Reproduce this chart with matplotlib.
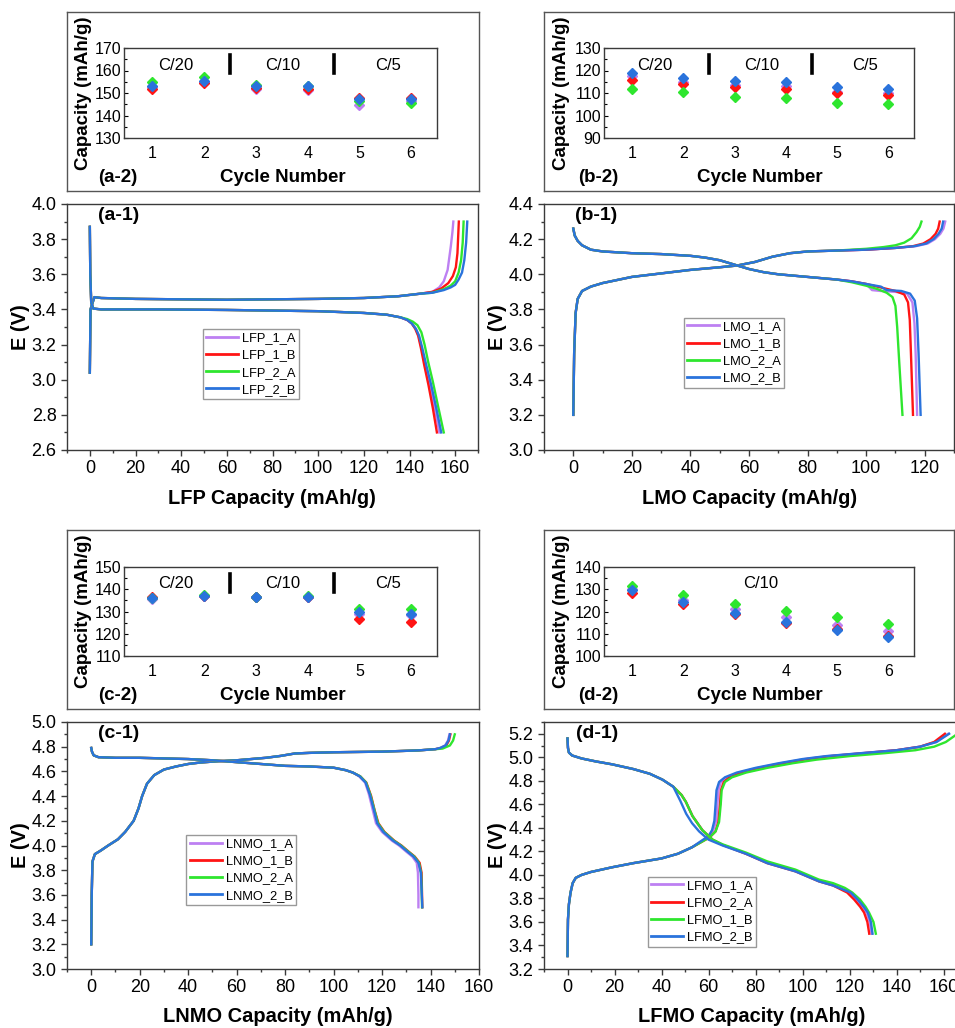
import matplotlib
matplotlib.use("Agg")
import matplotlib.pyplot as plt
from matplotlib.ticker import MultipleLocator

plt.rcParams['font.family'] = ['Liberation Sans', 'DejaVu Sans']

W, H = 955, 1028
colors = ['#BD80F2', '#FF1414', '#2EE62E', '#2A73DC']

# ---------------- cycling data (insets) ----------------
cycles = [1, 2, 3, 4, 5, 6]

lfp_cyc = [[152.5, 155.0, 151.7, 151.5, 144.8, 146.5],
           [151.6, 154.3, 152.2, 152.0, 148.0, 148.0],
           [154.9, 157.0, 153.5, 153.2, 146.5, 145.7],
           [153.1, 155.5, 153.0, 153.0, 147.5, 147.3]]
lmo_cyc = [[117.5, 115.0, 113.5, 113.0, 110.5, 110.0],
           [115.8, 114.0, 112.5, 112.0, 109.9, 109.3],
           [111.9, 110.4, 108.4, 107.8, 105.7, 105.1],
           [118.7, 116.7, 115.2, 114.7, 112.5, 111.9]]
lnmo_cyc = [[135.5, 136.8, 136.3, 136.4, 129.0, 128.5],
            [136.7, 137.0, 136.5, 136.6, 126.6, 125.3],
            [136.0, 137.2, 136.6, 136.8, 131.3, 131.0],
            [135.9, 137.0, 136.5, 136.6, 129.6, 129.0]]
lfmo_cyc = [[130.0, 125.3, 121.1, 117.4, 114.1, 111.4],
            [128.5, 123.5, 119.0, 115.0, 112.0, 109.0],
            [131.6, 127.6, 123.5, 120.4, 117.4, 114.6],
            [129.7, 124.4, 119.4, 115.3, 111.7, 108.4]]

rate_labels = ['C/20', 'C/10', 'C/5']
rate_pos = [1.45, 3.52, 5.55]
rate_breaks = [2.5, 4.5]

# ---------------- voltage profiles ----------------
# LFP
lfp_labels = ['LFP_1_A', 'LFP_1_B', 'LFP_2_A', 'LFP_2_B']
lfp_chg_cap = [0, 0.3, 1, 2, 5, 20, 60, 100, 120, 135, 145]
lfp_chg_v = [3.04, 3.40, 3.43, 3.47, 3.465, 3.46, 3.455, 3.46, 3.465, 3.475, 3.49]
lfp_chg_tail_cap = [[150, 153, 155, 156.7, 158.1, 158.8, 159.2],
                    [150, 154, 157, 159, 160.3, 161.0, 161.6],
                    [150, 155, 158, 160, 161.5, 162.6, 163.3, 163.7],
                    [150, 155, 158, 160, 161.5, 163, 164, 164.8, 165.3]]
lfp_chg_tail_v = [[3.50, 3.525, 3.56, 3.625, 3.76, 3.84, 3.90],
                  [3.50, 3.52, 3.55, 3.59, 3.64, 3.72, 3.90],
                  [3.495, 3.515, 3.535, 3.56, 3.61, 3.68, 3.78, 3.90],
                  [3.495, 3.51, 3.525, 3.54, 3.57, 3.61, 3.68, 3.78, 3.90]]
lfp_dis_cap = [0, 0.2, 0.6, 1.5, 5, 30, 60, 100, 120, 130, 136]
lfp_dis_v = [3.87, 3.60, 3.44, 3.405, 3.40, 3.40, 3.397, 3.39, 3.38, 3.37, 3.355]
lfp_dis_tail_cap = [[139, 141, 142.7, 144, 145.3, 147, 149, 151, 153.1],
                    [139, 141, 142.5, 143.8, 145, 146.5, 148.3, 150.2, 152],
                    [139, 141.5, 143.5, 145.2, 146.6, 148.2, 150.2, 152.5, 155],
                    [139, 141, 142.8, 144.2, 145.6, 147.4, 149.5, 151.7, 153.9]]
lfp_dis_tail_v = [[3.34, 3.32, 3.29, 3.25, 3.18, 3.08, 2.97, 2.84, 2.70],
                  [3.34, 3.32, 3.29, 3.25, 3.18, 3.08, 2.97, 2.84, 2.70],
                  [3.345, 3.33, 3.31, 3.27, 3.20, 3.10, 2.99, 2.85, 2.70],
                  [3.34, 3.32, 3.29, 3.25, 3.18, 3.08, 2.97, 2.84, 2.70]]

# LMO
lmo_labels = ['LMO_1_A', 'LMO_1_B', 'LMO_2_A', 'LMO_2_B']
lmo_chg_cap = [0, 0.3, 0.8, 1.5, 3, 6, 10, 20, 30, 40, 50, 56, 62, 68, 74, 80, 90]
lmo_chg_v = [3.20, 3.55, 3.78, 3.86, 3.905, 3.93, 3.95, 3.985, 4.005, 4.025, 4.04, 4.05,
             4.07, 4.10, 4.12, 4.13, 4.135]
lmo_chg_tail_cap = [[100, 110, 117, 121, 123.5, 125.3, 126.4, 127],
                    [100, 110, 116, 119.5, 122, 123.7, 124.6, 125.1],
                    [100, 106, 110, 113, 115.5, 117.2, 118.3, 118.9],
                    [100, 110, 116.5, 120.5, 123, 124.7, 125.8, 126.3]]
lmo_chg_tail_v = [[4.14, 4.15, 4.16, 4.175, 4.20, 4.23, 4.26, 4.30],
                  [4.14, 4.15, 4.16, 4.175, 4.20, 4.23, 4.26, 4.30],
                  [4.145, 4.155, 4.165, 4.18, 4.205, 4.24, 4.27, 4.30],
                  [4.14, 4.15, 4.16, 4.175, 4.20, 4.23, 4.26, 4.30]]
lmo_dis_cap = [0, 0.5, 1.5, 3, 6, 10, 20, 30, 40, 45, 50, 55, 60, 65, 70, 80, 90]
lmo_dis_v = [4.26, 4.22, 4.19, 4.165, 4.14, 4.13, 4.12, 4.115, 4.105, 4.095, 4.08, 4.055,
             4.03, 4.012, 4.0, 3.985, 3.97]
lmo_dis_tail_cap = [[95, 100, 102, 105, 110, 114, 115.8, 116.5, 116.9, 117.4],
                    [95, 100, 105, 110, 113, 114.3, 114.9, 115.3, 116],
                    [95, 100, 104, 107, 109, 110, 110.6, 111.3, 112.4],
                    [95, 100, 105, 107, 112, 115, 116.6, 117.4, 117.9, 118.6]]
lmo_dis_tail_v = [[3.96, 3.945, 3.91, 3.905, 3.90, 3.89, 3.84, 3.72, 3.55, 3.20],
                  [3.96, 3.945, 3.925, 3.905, 3.885, 3.84, 3.74, 3.55, 3.20],
                  [3.955, 3.935, 3.915, 3.895, 3.87, 3.82, 3.70, 3.50, 3.20],
                  [3.96, 3.945, 3.93, 3.91, 3.905, 3.89, 3.85, 3.75, 3.55, 3.20]]

# LNMO
lnmo_labels = ['LNMO_1_A', 'LNMO_1_B', 'LNMO_2_A', 'LNMO_2_B']
lnmo_chg_cap = [0, 0.2, 0.5, 1.5, 4, 7, 11, 14, 17.5, 19.5, 21, 23, 26, 30, 35, 40, 45, 52,
                60, 66, 72, 78, 84, 90, 100, 120, 135, 142]
lnmo_chg_v = [3.20, 3.60, 3.87, 3.93, 3.96, 4.0, 4.05, 4.11, 4.2, 4.3, 4.4, 4.5, 4.57, 4.615,
              4.64, 4.66, 4.672, 4.682, 4.69, 4.70, 4.71, 4.725, 4.745, 4.75, 4.755, 4.76,
              4.77, 4.78]
lnmo_chg_tail_cap = [[144, 146, 147.2, 147.8],
                     [144.5, 146.5, 147.6, 148.2],
                     [145, 148, 149.3, 150],
                     [144, 146.2, 147.4, 148]]
lnmo_chg_tail_v = [[4.79, 4.81, 4.85, 4.90],
                   [4.79, 4.81, 4.85, 4.90],
                   [4.785, 4.81, 4.85, 4.90],
                   [4.79, 4.81, 4.85, 4.90]]
lnmo_dis_cap = [0, 0.3, 1, 3, 10, 20, 30, 40, 50, 60, 70, 80, 90, 100, 105, 108]
lnmo_dis_v = [4.79, 4.76, 4.73, 4.715, 4.71, 4.71, 4.705, 4.70, 4.69, 4.675, 4.66, 4.645,
              4.64, 4.63, 4.61, 4.59]
lnmo_dis_tail_cap = [[110.5, 113, 114.5, 116, 117.5, 120, 124, 127, 130, 132.5, 134.3, 134.8, 135, 135],
                     [111, 113.5, 115.5, 117, 118.5, 121, 125, 128, 131, 133.5, 135.5, 136.3, 136.5, 136.6],
                     [111, 113.4, 115.2, 116.8, 118.3, 120.8, 124.8, 127.8, 130.8, 133.3, 135.2, 136.1, 136.4, 136.5],
                     [110.8, 113.2, 115, 116.6, 118, 120.5, 124.5, 127.5, 130.5, 133, 135, 136, 136.4, 136.6]]
lnmo_dis_tail_v = [[4.56, 4.51, 4.42, 4.30, 4.18, 4.11, 4.04, 4.0, 3.95, 3.91, 3.86, 3.78, 3.6, 3.5],
                   [4.56, 4.51, 4.40, 4.28, 4.18, 4.11, 4.04, 4.0, 3.95, 3.91, 3.86, 3.78, 3.6, 3.5],
                   [4.56, 4.51, 4.41, 4.29, 4.18, 4.11, 4.04, 4.0, 3.95, 3.91, 3.86, 3.78, 3.6, 3.5],
                   [4.56, 4.51, 4.41, 4.29, 4.18, 4.11, 4.04, 4.0, 3.95, 3.91, 3.86, 3.78, 3.6, 3.5]]

# LFMO
lfmo_labels = ['LFMO_1_A', 'LFMO_2_A', 'LFMO_1_B', 'LFMO_2_B']
lfmo_chg_cap = [0, 0.2, 0.6, 1.3, 2.2, 3.5, 6, 10, 19, 28, 40, 47, 53]
lfmo_chg_v = [3.31, 3.62, 3.75, 3.85, 3.93, 3.975, 4.0, 4.025, 4.065, 4.10, 4.14, 4.18, 4.235]
lfmo_chg_tail_cap = [[57, 60.3, 62, 63.3, 63.8, 64.2, 65.3, 68, 73, 81, 91, 101, 111, 125, 140, 150, 157, 162],
                     [57, 60.5, 63, 64.2, 64.9, 65.3, 66.5, 69, 74, 82, 92, 102, 112, 126, 140, 150, 156, 160.6],
                     [57, 60.5, 63, 64.5, 65.2, 65.6, 67, 70, 76, 85, 96, 106, 120, 135, 148, 156, 161, 166],
                     [57, 60, 61.5, 62.5, 63, 63.4, 64.5, 67, 72, 80, 90, 100, 110, 125, 140, 150, 157, 162.4]]
lfmo_chg_tail_v = [[4.285, 4.33, 4.38, 4.46, 4.6, 4.72, 4.79, 4.83, 4.87, 4.91, 4.95, 4.985, 5.01, 5.035, 5.06, 5.09, 5.13, 5.2],
                   [4.28, 4.32, 4.37, 4.45, 4.6, 4.72, 4.79, 4.83, 4.87, 4.91, 4.95, 4.985, 5.01, 5.035, 5.06, 5.09, 5.13, 5.2],
                   [4.28, 4.32, 4.37, 4.45, 4.6, 4.72, 4.79, 4.83, 4.87, 4.91, 4.95, 4.98, 5.01, 5.035, 5.06, 5.09, 5.13, 5.2],
                   [4.29, 4.33, 4.38, 4.46, 4.6, 4.72, 4.79, 4.83, 4.87, 4.91, 4.95, 4.985, 5.01, 5.035, 5.06, 5.09, 5.13, 5.2]]
lfmo_dis_cap = [0, 0.2, 0.6, 2, 6, 12, 19, 28, 35, 40.4, 45]
lfmo_dis_v = [5.16, 5.08, 5.04, 5.015, 4.99, 4.965, 4.94, 4.9, 4.86, 4.81, 4.75]
lfmo_dis_tail_cap = [[48.5, 50.4, 53.2, 57.4, 61.7, 66, 75.9, 85, 97, 107, 113, 117.5, 120, 123, 125.5, 127.2, 128.6, 129.4],
                     [48.5, 50.4, 53.2, 57.4, 61.7, 66, 75.9, 85, 97, 107, 113, 117, 119, 122, 124.5, 126.2, 127.6, 128.4],
                     [48.5, 50.4, 53.2, 57.4, 61.7, 66, 75.9, 85, 97, 107, 113, 118, 121.2, 124.5, 126.8, 128.3, 130.2, 131.2],
                     [48, 50.5, 53, 56, 60, 66, 75.9, 85, 97, 107, 113, 118, 120.5, 123.5, 126, 127.8, 129.1, 129.8]]
lfmo_dis_tail_v = [[4.68, 4.62, 4.50, 4.38, 4.30, 4.255, 4.18, 4.105, 4.035, 3.95, 3.915, 3.875, 3.85, 3.79, 3.73, 3.68, 3.6, 3.5],
                   [4.68, 4.62, 4.50, 4.38, 4.30, 4.255, 4.18, 4.10, 4.03, 3.945, 3.91, 3.87, 3.85, 3.79, 3.73, 3.68, 3.6, 3.5],
                   [4.68, 4.62, 4.50, 4.38, 4.30, 4.26, 4.19, 4.115, 4.045, 3.96, 3.93, 3.89, 3.85, 3.79, 3.73, 3.68, 3.6, 3.5],
                   [4.63, 4.52, 4.44, 4.37, 4.30, 4.25, 4.18, 4.10, 4.03, 3.945, 3.91, 3.87, 3.85, 3.79, 3.73, 3.68, 3.6, 3.5]]


def rect(x0, y0, x1, y1):
    # pixel box -> figure fraction [left, bottom, width, height]
    return [x0 / W, 1 - y1 / H, (x1 - x0) / W, (y1 - y0) / H]


fig = plt.figure(figsize=(W / 100, H / 100), dpi=100)
spine_col = '#3a3a3a'


def inset(frame, inner, data, ylim, tag, lab_x, tag_x, xl_x, y_off, rates=True):
    fr = fig.add_axes(rect(*frame))
    fr.set_xticks([])
    fr.set_yticks([])
    for s in fr.spines.values():
        s.set_color('#555555')
        s.set_linewidth(1.0)
    ax = fig.add_axes(rect(*inner))
    for i in range(4):
        ax.plot(cycles, data[i], 'D', color=colors[i], ms=4.6, mec=colors[i])
    ax.set_xlim(0.45, 6.5)
    ax.set_ylim(*ylim)
    ax.set_xticks(cycles)
    ax.yaxis.set_major_locator(MultipleLocator(10))
    ax.yaxis.set_minor_locator(MultipleLocator(5))
    ax.tick_params(axis='y', which='major', direction='in', length=3, width=0.8,
                   labelsize=11.5, pad=2)
    ax.tick_params(axis='y', which='minor', direction='in', length=1.8, width=0.8)
    ax.tick_params(axis='x', length=0, labelsize=11.5, pad=6)
    for s in ax.spines.values():
        s.set_color(spine_col)
        s.set_linewidth(1.0)
    if rates:
        for t, x in zip(rate_labels, rate_pos):
            ax.text(x, 0.81, t, transform=ax.get_xaxis_transform(), ha='center',
                    va='center', fontsize=12)
        for b in rate_breaks:
            ax.axvline(b, ymin=0.72, ymax=0.92, color='k', lw=2.6)
    else:
        ax.text(3.5, 0.82, 'C/10', transform=ax.get_xaxis_transform(), ha='center',
                va='center', fontsize=12)
    fig.text(lab_x / W, 1 - (93 + y_off) / H, 'Capacity (mAh/g)', rotation=90,
             ha='center', va='center', fontsize=13.5, fontweight='bold')
    fig.text(xl_x / W, 1 - (178 + y_off) / H, 'Cycle Number', ha='center',
             va='center', fontsize=13.5, fontweight='bold')
    fig.text(tag_x / W, 1 - (178 + y_off) / H, tag, ha='left', va='center',
             fontsize=13.5, fontweight='bold')


def profile(box, labels, chg, chg_tail, dis, dis_tail, xlim, ylim, xname, tag,
            leg_xy, lab_x, xl_x, y_off):
    ax = fig.add_axes(rect(*box))
    for i in range(4):
        ax.plot(chg[0] + chg_tail[0][i], chg[1] + chg_tail[1][i], color=colors[i],
                lw=1.7, label=labels[i], solid_joinstyle='round')
    for i in range(4):
        ax.plot(dis[0] + dis_tail[0][i], dis[1] + dis_tail[1][i], color=colors[i],
                lw=1.7, solid_joinstyle='round')
    ax.set_xlim(*xlim)
    ax.set_ylim(*ylim)
    ax.xaxis.set_major_locator(MultipleLocator(20))
    ax.xaxis.set_minor_locator(MultipleLocator(10))
    ax.yaxis.set_major_locator(MultipleLocator(0.2))
    ax.yaxis.set_minor_locator(MultipleLocator(0.1))
    ax.yaxis.set_major_formatter(matplotlib.ticker.FormatStrFormatter('%.1f'))
    ax.tick_params(which='major', direction='out', length=4.5, width=1, labelsize=13,
                   pad=3, color=spine_col)
    ax.tick_params(which='minor', direction='out', length=2.3, width=1, color=spine_col)
    for s in ax.spines.values():
        s.set_color(spine_col)
        s.set_linewidth(1.0)
    ax.text(0.075, 0.988, tag, transform=ax.transAxes, ha='left', va='top',
            fontsize=14, fontweight='bold')
    leg = ax.legend(loc='upper left', bbox_to_anchor=leg_xy, fontsize=9.3,
                    frameon=True, fancybox=False, edgecolor='#999999', framealpha=1,
                    handlelength=2.5, handletextpad=0.3, labelspacing=0.4,
                    borderpad=0.25, borderaxespad=0)
    leg.get_frame().set_linewidth(1.0)
    for h in leg.get_lines():
        h.set_linewidth(2.0)
    fig.text(lab_x / W, 1 - (327 + y_off) / H, 'E (V)', rotation=90, ha='center',
             va='center', fontsize=14.4, fontweight='bold')
    fig.text(xl_x / W, 1 - (498 + y_off) / H, xname, ha='center', va='center',
             fontsize=14.4, fontweight='bold')


# insets
inset((67, 12, 479, 191), (124, 48, 437, 138), lfp_cyc, (130, 170), '(a-2)', 83, 98, 283, 0)
inset((544, 12, 954, 191), (604, 48, 914, 138), lmo_cyc, (90, 130), '(b-2)', 561, 578, 760, 0)
inset((67, 530, 479, 709), (124, 567, 437, 656), lnmo_cyc, (110, 150), '(c-2)', 83, 98, 283, 518)
inset((544, 530, 954, 709), (604, 567, 914, 656), lfmo_cyc, (100, 140), '(d-2)', 561, 578, 760, 518,
      rates=False)

# voltage profiles
profile((67, 204, 478, 450), lfp_labels, (lfp_chg_cap, lfp_chg_v),
        (lfp_chg_tail_cap, lfp_chg_tail_v), (lfp_dis_cap, lfp_dis_v),
        (lfp_dis_tail_cap, lfp_dis_tail_v), (-10, 170), (2.6, 4.0),
        'LFP Capacity (mAh/g)', '(a-1)', (0.33, 0.492), 20, 272, 0)
profile((544, 204, 954, 450), lmo_labels, (lmo_chg_cap, lmo_chg_v),
        (lmo_chg_tail_cap, lmo_chg_tail_v), (lmo_dis_cap, lmo_dis_v),
        (lmo_dis_tail_cap, lmo_dis_tail_v), (-10, 130), (3.0, 4.4),
        'LMO Capacity (mAh/g)', '(b-1)', (0.341, 0.538), 497, 750, 0)
profile((67, 722, 479, 969), lnmo_labels, (lnmo_chg_cap, lnmo_chg_v),
        (lnmo_chg_tail_cap, lnmo_chg_tail_v), (lnmo_dis_cap, lnmo_dis_v),
        (lnmo_dis_tail_cap, lnmo_dis_tail_v), (-10, 160), (3.0, 5.0),
        'LNMO Capacity (mAh/g)', '(c-1)', (0.29, 0.543), 20, 278, 518)
profile((544, 722, 967, 969), lfmo_labels, (lfmo_chg_cap, lfmo_chg_v),
        (lfmo_chg_tail_cap, lfmo_chg_tail_v), (lfmo_dis_cap, lfmo_dis_v),
        (lfmo_dis_tail_cap, lfmo_dis_tail_v), (-10, 170), (3.2, 5.3),
        'LFMO Capacity (mAh/g)', '(d-1)', (0.245, 0.374), 497, 752, 518)

fig.savefig('out.png', dpi=100)
